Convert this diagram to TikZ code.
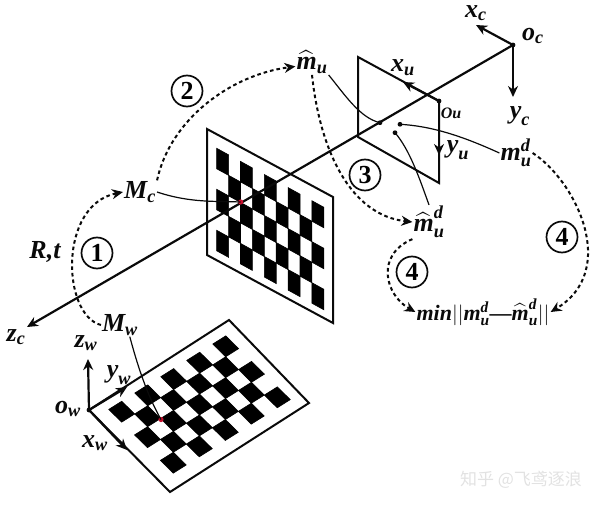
\documentclass[tikz,border=0pt]{standalone}
\usepackage{amsmath}
\usepackage{fontspec}
\setmainfont{Liberation Serif}
\newfontfamily\cjk{Noto Sans CJK SC}
\usetikzlibrary{arrows.meta}
\definecolor{ink}{HTML}{0A0A0A}
\definecolor{redpt}{HTML}{C8102E}
\definecolor{wmark}{HTML}{E2E2E2}
\newcommand{\bi}[1]{\text{\bfseries\itshape #1}}
\newcommand{\ci}[2]{$\bi{#1}_{\bi{#2}}$}
\tikzset{
  lab/.style={font=\fontsize{26}{28}\selectfont,text=ink,inner sep=1pt},
  circnum/.style={circle,draw=ink,line width=1.7pt,minimum size=31pt,inner sep=0pt,font=\fontsize{26}{28}\selectfont\bfseries},
  sheet/.style={draw=ink,line width=2pt,fill=white,line join=miter},
  cell/.style={fill=black,draw=black,line width=.6pt},
  axis/.style={draw=ink,line width=2.2pt,-{Stealth[length=11pt,width=10pt]}},
  leader/.style={draw=ink,line width=1.2pt},
  hop/.style={draw=ink,line width=2pt,dash pattern=on 3.6pt off 3pt,-{Stealth[length=11pt,width=10pt]}}
}
\begin{document}
\begin{tikzpicture}[x=1pt,y=-1pt]
  \useasboundingbox (0,0) rectangle (600,506);

  % Board seen by the camera, 9 x 5 cells on a sheared grid.
  \draw[sheet] (207,129) -- (333,197) -- (333,323) -- (207,255) -- cycle;
  \foreach \i in {0,...,8}
    \foreach \j in {0,...,4} {
      \pgfmathparse{int(mod(\i+\j,2))}
      \ifnum\pgfmathresult=0
        \filldraw[cell] (216.7+11.9*\i,148.3+6.55*\i+20.5*\j) -- ++(11.9,6.55) -- ++(0,20.5) -- ++(-11.9,-6.55) -- cycle;
      \fi
    }

  % Board lying on the ground, same cell count.
  \coordinate (ow) at (89,410);
  \draw[sheet] (ow) -- (229,320) -- (309,403) -- (170,492) -- cycle;
  \foreach \i in {0,...,8}
    \foreach \j in {0,...,4} {
      \pgfmathparse{int(mod(\i+\j,2))}
      \ifnum\pgfmathresult=0
        \filldraw[cell] (108.75+13*\i+12.9*\j,409.4-8.17*\i+12.75*\j) -- ++(13,-8.17) -- ++(12.9,12.75) -- ++(-13,8.17) -- cycle;
      \fi
    }

  % Image plane, then the optical axis through it.
  \coordinate (ou) at (439,101);
  \coordinate (oc) at (513,45);
  \coordinate (zctip) at (27,327);
  \draw[ink,line width=2pt] (ou) -- (439,183) -- (358,137) -- (358,57) -- (ou);
  \draw[axis] (oc) -- (zctip);
  \coordinate (xutip) at (403,82);
  \coordinate (yutip) at (439,155);
  \draw[axis] (ou) -- (xutip);
  \draw[axis] (ou) -- (yutip);
  \coordinate (xctip) at (476,25);
  \coordinate (yctip) at (513,97);
  \draw[axis] (oc) -- (xctip);
  \draw[axis] (oc) -- (yctip);

  % World axes at the ground board corner.
  \coordinate (zwtip) at (88,359);
  \coordinate (ywtip) at (127,387);
  \coordinate (xwtip) at (127,450);
  \draw[axis] (ow) -- (zwtip);
  \draw[axis] (ow) -- (ywtip);
  \draw[axis] (ow) -- (xwtip);

  % Points.
  \coordinate (pc) at (240.7,202);
  \coordinate (pw) at (161,419.5);
  \coordinate (pmu) at (380,122.7);
  \coordinate (pmd) at (400,124.3);
  \coordinate (pmh) at (395,132.7);
  \fill[redpt] (pc) circle (2.6);
  \fill[redpt] (pw) circle (2.6);
  \foreach \p in {pmu,pmd,pmh,ou,oc,ow}
    \fill[ink] (\p) circle (2.4);

  % Labels.
  \node[lab] (xc) at (476,13) {\ci{x}{c}};
  \node[lab] (oclab) at (533,36) {\ci{o}{c}};
  \node[lab] (yc) at (520,116) {\ci{y}{c}};
  \node[lab] (xu) at (403,68) {\ci{x}{u}};
  \node[lab,font=\fontsize{16}{18}\selectfont] (oulab) at (451,113) {\bi{Ou}};
  \node[lab] (yu) at (458,150) {\ci{y}{u}};
  \node[lab] (mu) at (312,62) {$\widehat{\bi{m}}_{\bi{u}}$};
  \node[lab] (md) at (516,153) {$\bi{m}_{\bi{u}}^{\bi{d}}$};
  \node[lab] (mhd) at (429,222) {$\widehat{\bi{m}}_{\bi{u}}^{\bi{d}}$};
  \node[lab,font=\fontsize{22}{24}\selectfont] (minlab) at (483,312) {$\bi{min}||\bi{m}_{\bi{u}}^{\bi{d}}\text{\bfseries---}\widehat{\bi{m}}_{\bi{u}}^{\bi{d}}||$};
  \node[lab] (Mc) at (140,192) {\ci{M}{c}};
  \node[lab] (Mw) at (120,325) {\ci{M}{w}};
  \node[lab] (rt) at (45,252) {\bi{R,t}};
  \node[lab] (zc) at (16,337) {\ci{z}{c}};
  \node[lab] (zw) at (86,343) {\ci{z}{w}};
  \node[lab] (yw) at (119,375) {\ci{y}{w}};
  \node[lab] (owlab) at (68,409) {\ci{o}{w}};
  \node[lab] (xw) at (95,443) {\ci{x}{w}};

  \node[circnum] (one) at (97,253) {1};
  \node[circnum] (two) at (187,91) {2};
  \node[circnum] (three) at (365,175) {3};
  \node[circnum] (fourr) at (562,237) {4};
  \node[circnum] (fourl) at (412,272) {4};

  % Thin leaders from labels to points.
  \draw[leader] (Mc.east) .. controls (190,203) and (215,201) .. (pc);
  \draw[leader] (Mw.-50) .. controls (140,375) and (150,400) .. (pw);
  \draw[leader] (mu.south east) .. controls (345,95) and (360,118) .. (pmu);
  \draw[leader] (md.west) .. controls (460,135) and (430,126) .. (pmd);
  \draw[leader] (mhd.north) .. controls (420,180) and (410,150) .. (pmh);

  % Dashed hops between labels.
  \draw[hop] (Mw.west) .. controls (62,315) and (58,205) .. (Mc.west);
  \draw[hop] (Mc.north east) .. controls (170,120) and (230,75) .. (mu.195);
  \draw[hop] (mu.south) .. controls (320,150) and (350,215) .. (mhd.west);
  \draw[hop] (mhd.south west) .. controls (375,255) and (385,295) .. (minlab.west);
  \draw[hop] (md.east) .. controls (575,180) and (620,270) .. (minlab.east);

  % Site mark in the lower right corner.
  \node[font=\cjk\fontsize{17}{19}\selectfont,text=wmark,inner sep=0pt] (wm) at (521,480) {知乎 @飞鸢逐浪};
\end{tikzpicture}
\end{document}
